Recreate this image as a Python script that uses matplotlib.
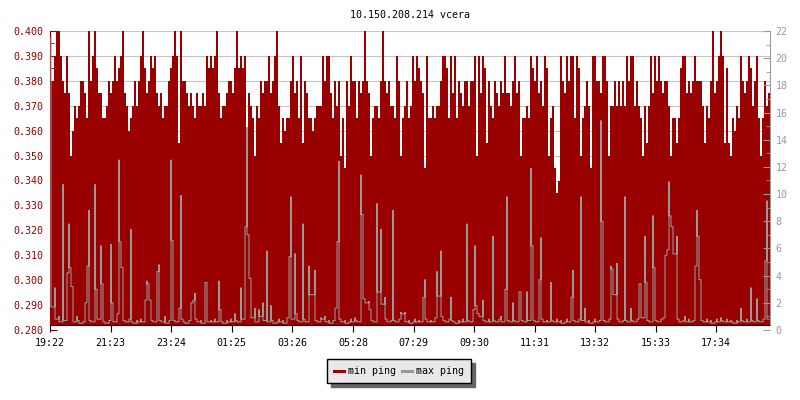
import numpy as np
import matplotlib
matplotlib.use("Agg")
import matplotlib.pyplot as plt
from matplotlib.lines import Line2D

plt.rcParams['font.family'] = ['DejaVu Sans Mono', 'DejaVu Sans']

# --- data: one value per 4 minute bucket, starting 19:22 ---
title = "10.150.208.214 vcera"
series_names = ["min ping", "max ping"]
start_label = "19:22"
bucket_min = 4
tick_labels = ["19:22", "21:23", "23:24", "01:25", "03:26", "05:28",
               "07:29", "09:30", "11:31", "13:32", "15:33", "17:34"]

# min ping in microseconds (left axis, shown in ms)
min_ping_us = [
    380, 380, 390, 400, 400, 390, 380, 375, 390, 375, 350, 360, 370, 365, 370, 380, 380, 375, 365, 400,
    380, 390, 400, 385, 375, 375, 365, 365, 370, 380, 375, 380, 390, 380, 385, 390, 400, 375, 370, 360,
    365, 370, 380, 370, 380, 390, 400, 385, 375, 380, 390, 385, 390, 375, 370, 375, 365, 370, 370, 380,
    385, 390, 400, 390, 355, 400, 380, 380, 375, 370, 375, 370, 365, 375, 370, 370, 375, 370, 390, 385,
    390, 385, 390, 400, 375, 365, 370, 370, 375, 380, 380, 375, 385, 400, 385, 390, 385, 390, 360, 375,
    370, 365, 350, 370, 365, 380, 375, 380, 380, 390, 375, 380, 390, 400, 370, 355, 365, 360, 365, 365,
    380, 390, 375, 380, 365, 390, 355, 380, 375, 365, 365, 360, 365, 370, 370, 370, 390, 380, 390, 390,
    375, 365, 380, 370, 380, 350, 365, 345, 380, 370, 390, 380, 380, 365, 380, 375, 380, 400, 380, 375,
    350, 365, 370, 370, 365, 380, 400, 380, 375, 380, 370, 370, 365, 390, 380, 350, 365, 370, 380, 365,
    370, 390, 380, 390, 385, 380, 375, 345, 390, 365, 365, 370, 365, 370, 370, 380, 390, 390, 385, 365,
    390, 375, 390, 365, 380, 375, 370, 380, 380, 370, 380, 380, 390, 350, 390, 375, 390, 385, 355, 380,
    370, 365, 380, 375, 370, 380, 375, 390, 375, 375, 370, 380, 390, 375, 380, 350, 365, 365, 370, 365,
    390, 385, 380, 390, 375, 380, 370, 390, 385, 350, 365, 370, 345, 335, 340, 390, 380, 375, 390, 380,
    390, 390, 365, 390, 385, 350, 365, 370, 380, 370, 345, 390, 390, 380, 380, 375, 390, 390, 380, 350,
    370, 370, 380, 370, 380, 370, 380, 370, 390, 380, 390, 390, 370, 380, 370, 365, 350, 370, 355, 370,
    390, 375, 390, 380, 390, 380, 375, 380, 380, 370, 350, 365, 365, 355, 365, 385, 390, 390, 375, 380,
    375, 380, 390, 380, 380, 380, 370, 355, 370, 365, 380, 400, 375, 380, 390, 400, 390, 355, 385, 355,
    350, 365, 360, 370, 365, 390, 380, 375, 380, 390, 385, 370, 380, 390, 365, 350, 365, 380, 370, 375,
]

# max ping (right axis)
max_ping = [
    21.5, 1.7, 3.1, 0.8, 1.0, 0.6, 10.7, 0.7, 4.2, 7.8, 4.6, 3.2, 0.6, 1.0, 0.7, 0.5, 0.6, 2.0, 4.7, 8.8,
    0.7, 0.6, 10.7, 3.0, 0.8, 6.2, 3.4, 0.6, 0.5, 0.7, 6.3, 2.0, 0.6, 1.2, 12.5, 6.5, 4.6, 0.7, 0.6, 0.8,
    7.4, 0.6, 0.5, 0.7, 0.6, 0.8, 0.6, 2.2, 3.6, 3.4, 2.2, 0.7, 0.6, 4.3, 4.8, 0.7, 0.6, 1.0, 0.5, 0.7,
    12.5, 6.6, 0.7, 0.6, 1.6, 9.9, 0.8, 0.6, 0.5, 0.7, 2.0, 2.2, 2.7, 0.8, 0.6, 0.7, 0.5, 3.5, 3.5, 0.6,
    0.7, 0.6, 0.8, 0.6, 3.6, 1.5, 0.6, 0.5, 0.7, 0.6, 0.8, 0.6, 1.2, 0.7, 0.6, 3.1, 0.8, 7.6, 14.9, 7.0,
    3.8, 0.9, 1.6, 0.6, 1.5, 1.0, 2.0, 0.7, 5.8, 0.6, 1.8, 0.7, 0.5, 0.6, 0.8, 0.6, 0.7, 0.5, 0.9, 5.4,
    9.8, 0.8, 5.6, 1.2, 0.7, 0.6, 7.8, 0.8, 0.6, 4.7, 2.6, 2.6, 4.4, 0.7, 0.6, 0.9, 0.8, 1.0, 0.6, 0.7,
    0.5, 0.7, 1.6, 6.5, 12.4, 0.8, 0.6, 0.7, 0.5, 0.6, 0.8, 0.6, 0.9, 0.7, 0.6, 11.4, 8.5, 2.3, 2.0, 2.1,
    1.5, 0.7, 0.6, 9.3, 2.8, 7.4, 1.9, 2.4, 0.8, 0.6, 0.7, 8.8, 0.7, 0.6, 0.8, 1.3, 1.2, 1.3, 0.6, 0.7,
    0.5, 0.6, 0.8, 0.6, 0.7, 0.6, 2.4, 3.7, 0.8, 0.6, 0.7, 0.6, 0.9, 4.3, 2.5, 5.8, 1.0, 0.7, 0.6, 0.8,
    2.4, 0.7, 0.6, 0.5, 0.7, 0.6, 0.8, 0.6, 7.8, 0.7, 0.6, 1.5, 6.2, 1.8, 1.2, 1.0, 2.2, 0.7, 0.6, 0.8,
    0.6, 6.9, 0.7, 0.6, 0.8, 1.0, 0.6, 3.0, 9.8, 0.7, 0.6, 2.0, 0.7, 0.6, 2.8, 2.8, 0.7, 0.6, 2.8, 0.7,
    11.9, 6.2, 0.7, 0.6, 3.7, 6.8, 0.8, 0.6, 0.7, 0.6, 3.5, 0.7, 0.6, 0.8, 0.6, 0.7, 0.5, 0.6, 0.8, 0.6,
    2.4, 4.4, 0.7, 0.6, 0.8, 9.8, 0.7, 1.6, 0.6, 0.7, 0.5, 0.6, 0.8, 0.6, 0.7, 15.4, 8.0, 0.7, 0.6, 0.8,
    4.7, 4.5, 2.6, 4.9, 0.8, 0.6, 0.7, 9.8, 0.7, 0.6, 1.6, 0.7, 0.6, 0.8, 3.4, 3.4, 0.9, 6.9, 3.5, 0.7,
    0.6, 8.4, 4.6, 0.7, 0.6, 0.8, 0.9, 5.5, 5.9, 10.9, 8.4, 7.6, 5.6, 6.9, 0.8, 0.6, 0.7, 1.0, 0.6, 0.8,
    0.6, 0.7, 4.7, 8.8, 6.9, 3.7, 0.7, 0.6, 0.8, 0.6, 0.7, 0.5, 0.6, 0.8, 0.6, 0.9, 0.7, 0.6, 0.8, 0.6,
    0.7, 0.6, 0.5, 0.7, 0.6, 1.6, 0.7, 0.6, 0.8, 0.6, 3.1, 0.7, 0.6, 2.3, 0.7, 0.6, 0.8, 5.1, 9.5, 0.8,
]

RED = '#990000'
GREY = '#999999'
GRID = '#c4c4c4'
FS = 7.2


def minutes_after_start(label, start=start_label):
    h, m = map(int, label.split(':'))
    h0, m0 = map(int, start.split(':'))
    return ((h * 60 + m) - (h0 * 60 + m0)) % 1440


def spike_path(x, v):
    # every sample becomes a vertical stroke at its x, joined at the lower
    # of the two neighbouring values, like a 1px line chart
    v = np.asarray(v, dtype=float)
    joins = np.minimum(v[:-1], v[1:])
    xs, ys = [], []
    for i in range(len(v)):
        lo_prev = joins[i - 1] if i > 0 else v[0]
        lo_next = joins[i] if i < len(v) - 1 else v[-1]
        xs += [x[i], x[i], x[i]]
        ys += [lo_prev, v[i], lo_next]
    return xs, ys


min_ping = np.array(min_ping_us) / 1000.0
edges = np.arange(len(min_ping) + 1) * bucket_min
centers = edges[:-1] + bucket_min / 2
tick_pos = [minutes_after_start(t) for t in tick_labels]

y_lo, y_hi = 0.280, 0.400
y2_hi = 22
x_axis_at = 0.282   # the time axis sits a little above the lowest label

fig = plt.figure(figsize=(8, 4), dpi=100)
ax = fig.add_axes([50 / 800, 1 - 330 / 400, 720 / 800, 299 / 400])
ax.set_xlim(0, edges[-1])
ax.set_ylim(y_lo, y_hi)

left_ticks = np.round(np.arange(y_lo, y_hi + 0.0001, 0.01), 3)
ax.hlines(left_ticks[1:], 0, edges[-1], colors=GRID, lw=0.8, zorder=0.5)

ax.stairs(min_ping, edges, baseline=x_axis_at, fill=True, color=RED, lw=0, zorder=1)

ax.set_yticks(left_ticks)
ax.set_yticklabels(['%.3f' % v for v in left_ticks])
ax.set_yticks(np.round(left_ticks[:-1] + 0.005, 3), minor=True)
ax.tick_params(axis='y', which='major', direction='in', length=5, color=RED,
               labelcolor=RED, labelsize=FS, pad=5)
ax.tick_params(axis='y', which='minor', direction='in', length=3, color=RED)

ax.set_xticks(tick_pos)
ax.set_xticklabels(tick_labels)
ax.tick_params(axis='x', direction='out', length=5, color='black', labelsize=FS, pad=4)

ax.spines['top'].set_visible(False)
ax.spines['right'].set_visible(False)
ax.spines['left'].set_color(RED)
ax.spines['left'].set_bounds(x_axis_at, y_hi)
ax.spines['bottom'].set_position(('data', x_axis_at))
ax.spines['bottom'].set_color('black')
ax.spines['bottom'].set_zorder(3)

ax.set_title(title, fontsize=FS, pad=9.5)

ax2 = ax.twinx()
ax2.set_ylim(0, y2_hi)
gx, gy = spike_path(centers, max_ping)
ax2.plot(gx, gy, color=GREY, lw=0.75, zorder=2)
ax2.set_yticks(np.arange(0, y2_hi + 1, 2))
ax2.set_yticks(np.arange(1, y2_hi, 2), minor=True)
ax2.tick_params(axis='y', which='major', direction='in', length=5, color=GREY,
                labelcolor=GREY, labelsize=FS, pad=4)
ax2.tick_params(axis='y', which='minor', direction='in', length=3, color=GREY)
for s in ('top', 'left', 'bottom'):
    ax2.spines[s].set_visible(False)
ax2.spines['right'].set_color(GREY)
ax2.spines['right'].set_bounds((x_axis_at - y_lo) / (y_hi - y_lo) * y2_hi, y2_hi)

handles = [Line2D([], [], color=RED, lw=2.2), Line2D([], [], color=GREY, lw=2.2)]
leg = fig.legend(handles, series_names, loc='center', bbox_to_anchor=(0.499, 0.0717),
                 ncol=2, fontsize=FS, frameon=True, fancybox=False, framealpha=1,
                 edgecolor='black', facecolor='#e8e8e8', handlelength=1.0,
                 handletextpad=0.4, columnspacing=0.6, borderpad=0.7,
                 shadow={'ox': 3, 'oy': -3, 'color': '#666666', 'alpha': 1})
leg.get_frame().set_linewidth(1.0)

fig.savefig('out.png', dpi=100)
